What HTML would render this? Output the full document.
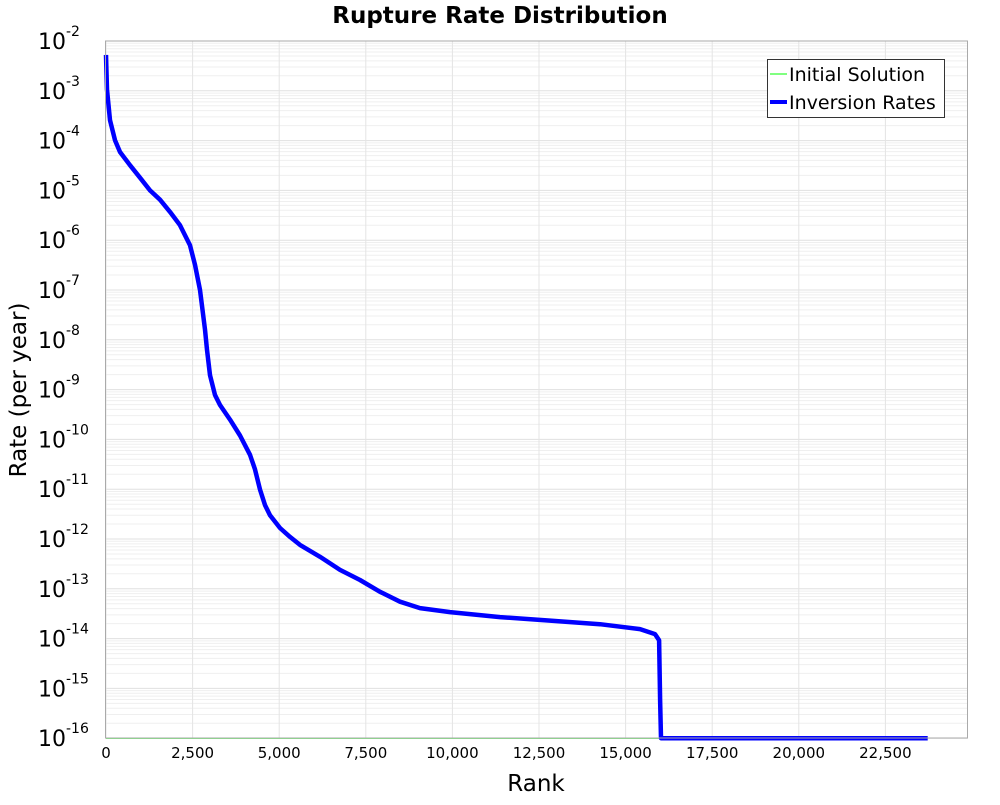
<!DOCTYPE html>
<html><head><meta charset="utf-8"><style>
body{margin:0;background:#fff;font-family:"Liberation Sans","DejaVu Sans",sans-serif}
svg text{font-family:"DejaVu Sans","Liberation Sans",sans-serif}
</style></head><body>
<svg id="c" width="1000" height="800" xmlns="http://www.w3.org/2000/svg">
<text x="500" y="23" text-anchor="middle" font-size="23" font-weight="bold">Rupture Rate Distribution</text>
<g id="grid"></g><g id="ax"></g><g id="series"></g>
<rect x="105.5" y="41" width="862" height="697" fill="none" stroke="#aaa"/>
<text x="536" y="791" text-anchor="middle" font-size="23">Rank</text>
<text transform="translate(26,390) rotate(-90)" text-anchor="middle" font-size="23">Rate (per year)</text>
<g>
<rect x="767.5" y="59.5" width="177" height="58" fill="#fff" stroke="#333"/>
<line x1="770" y1="74" x2="787" y2="74" stroke="#00ff00" stroke-width="1"/>
<text x="789" y="81" font-size="19">Initial Solution</text>
<line x1="770" y1="102" x2="787" y2="102" stroke="#0000ff" stroke-width="4"/>
<text x="789" y="109" font-size="19">Inversion Rates</text>
</g>
</svg>
<script>
const ranks=[0,29,115,260,404,693,982,1270,1559,1848,2136,2425,2569,2714,2858,2916,3002,3147,3291,3580,3869,4157,4302,4446,4590,4735,5023,5312,5601,6178,6756,7333,7910,8488,9065,9931,11375,12818,14262,15417,15850,15966,15995,16023,23720];
const inversionRates=[5.25e-3,1.05e-3,2.57e-4,1.02e-4,5.9e-5,3.2e-5,1.8e-5,1.0e-5,6.5e-6,3.7e-6,2.0e-6,7.9e-7,3.2e-7,1e-7,1.6e-8,6.3e-9,1.95e-9,7.8e-10,4.9e-10,2.5e-10,1.2e-10,4.9e-11,2.5e-11,9.8e-12,4.8e-12,3.0e-12,1.66e-12,1.1e-12,7.6e-13,4.4e-13,2.4e-13,1.5e-13,8.7e-14,5.5e-14,4.1e-14,3.4e-14,2.7e-14,2.3e-14,1.95e-14,1.55e-14,1.23e-14,9.3e-15,5.9e-16,1e-16,1e-16];
const initialRanks=[0,23720];
const initialRates=[1e-16,1e-16];
const xTicks=[0,2500,5000,7500,10000,12500,15000,17500,20000,22500];
const yExps=[-2,-3,-4,-5,-6,-7,-8,-9,-10,-11,-12,-13,-14,-15,-16];
const NS="http://www.w3.org/2000/svg";
const X0=106,XS=86.6/2500,YT=41,YD=49.8;
const sx=v=>X0+v*XS;
const sy=v=>YT+(-2-Math.log10(v))*YD;
function mk(t,a,p){const e=document.createElementNS(NS,t);for(const k in a)e.setAttribute(k,a[k]);p.appendChild(e);return e;}
const grid=document.getElementById('grid'),ax=document.getElementById('ax'),ser=document.getElementById('series');
for(let d=-16;d<-2;d++){for(let m=1;m<10;m++){const y=sy(m*Math.pow(10,d));
const l=mk('line',{x1:105.5,x2:967.5,y1:y,y2:y,stroke:m==1?'#e0e0e0':'#efefef','stroke-width':1},grid);

}}
xTicks.forEach(v=>{const x=sx(v);
const l=mk('line',{x1:x,x2:x,y1:41,y2:738,stroke:'#e4e4e4','stroke-width':1},grid);


const t=mk('text',{x:x,y:758,'text-anchor':'middle','font-size':15},ax);t.textContent=v.toLocaleString('en-US');

});
yExps.forEach(e=>{const y=sy(Math.pow(10,e));
const t=mk('text',{x:38,y:y+8,'font-size':22},ax);t.textContent='10';


const s=mk('tspan',{dy:-13,'font-size':14},t);s.textContent=String(e);});
function path(xs,ys,col,w,name){let d='';xs.forEach((v,i)=>{d+=(i?'L':'M')+sx(v).toFixed(1)+','+sy(ys[i]).toFixed(1);});
const p=mk('path',{d:d,fill:'none',stroke:col,'stroke-width':w,'stroke-linejoin':'round'},ser);

}
path(initialRanks,initialRates,'#00ff00',1,'initial-solution-line');
path(ranks,inversionRates,'#0000ff',4.5,'inversion-rates-line');
</script>
</body></html>
